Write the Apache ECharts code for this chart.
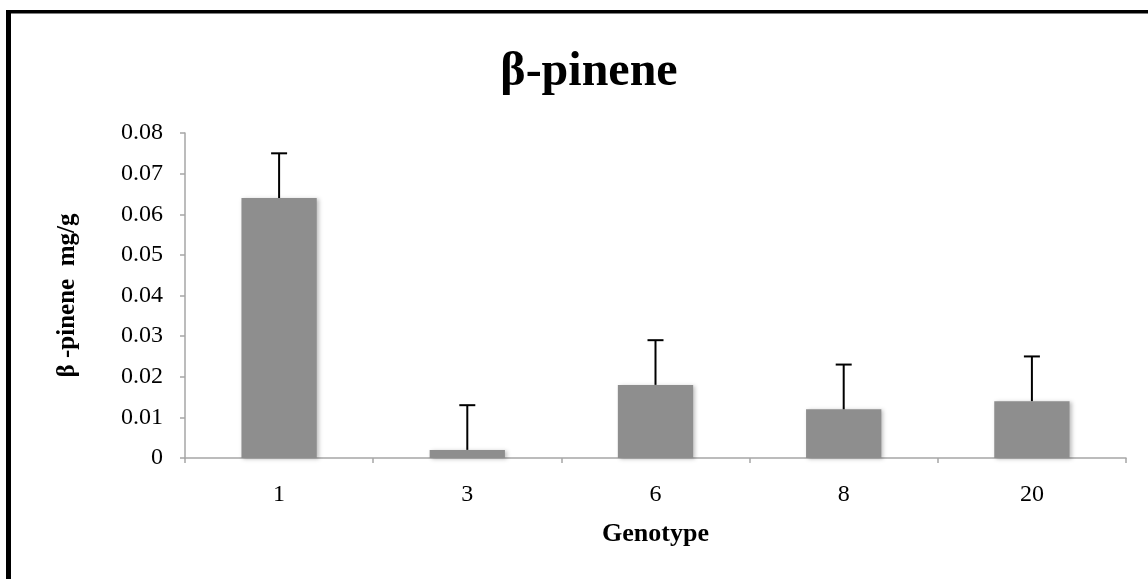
<!DOCTYPE html>
<html>
<head>
<meta charset="utf-8">
<script src="https://cdn.jsdelivr.net/npm/echarts@6/dist/echarts.min.js"></script>
<style>
html,body{margin:0;padding:0;background:#fff;}
#chart{width:1148px;height:579px;}
</style>
</head>
<body>
<div id="chart"></div>
<script>
const categories = ['1', '3', '6', '8', '20'];
const means = [0.064, 0.002, 0.018, 0.012, 0.014];
const errors = [0.011, 0.011, 0.011, 0.011, 0.011];
const yTicks = { min: 0, max: 0.08, interval: 0.01 };

const chart = echarts.init(document.getElementById('chart'), null, { renderer: 'canvas' });
const serif = '"Liberation Serif", "Times New Roman", serif';

const errData = means.map((m, i) => [i, m, m + errors[i]]);

chart.setOption({
  animation: false,
  backgroundColor: '#ffffff',
  title: {
    text: 'β-pinene',
    left: 584,
    textAlign: 'center',
    top: 44,
    textStyle: { fontFamily: serif, fontWeight: 'bold', fontSize: 48, color: '#000' }
  },
  graphic: [
    { type: 'line', shape: { x1: 6, y1: 11.75, x2: 1148, y2: 11.75 }, style: { stroke: '#000', lineWidth: 3.5 }, silent: true },
    { type: 'line', shape: { x1: 8.5, y1: 10, x2: 8.5, y2: 579 }, style: { stroke: '#000', lineWidth: 5 }, silent: true }
  ],
  grid: { left: 185, right: 22, top: 133, bottom: 121, containLabel: false },
  xAxis: {
    type: 'category',
    data: categories,
    name: 'Genotype',
    nameLocation: 'middle',
    nameGap: 63,
    nameTextStyle: { fontFamily: serif, fontWeight: 'bold', fontSize: 26, color: '#000' },
    axisLine: { lineStyle: { color: '#a6a6a6', width: 1.5 } },
    axisTick: { show: true, length: 5, lineStyle: { color: '#a6a6a6', width: 1.5 } },
    axisLabel: { fontFamily: serif, fontSize: 24, color: '#000', margin: 25 },
    splitLine: { show: false }
  },
  yAxis: {
    type: 'value',
    min: yTicks.min,
    max: yTicks.max,
    interval: yTicks.interval,
    name: 'β -pinene  mg/g',
    nameLocation: 'middle',
    nameGap: 105,
    nameRotate: 90,
    nameTextStyle: { fontFamily: serif, fontWeight: 'bold', fontSize: 25, color: '#000' },
    axisLine: { show: true, lineStyle: { color: '#a6a6a6', width: 1.5 } },
    axisTick: { show: true, length: 5, lineStyle: { color: '#a6a6a6', width: 1.5 } },
    axisLabel: { fontFamily: serif, fontSize: 24, color: '#000', margin: 22,
      formatter: v => (v === 0 ? '0' : v.toFixed(2)) },
    splitLine: { show: false }
  },
  series: [
    {
      type: 'bar',
      data: means,
      barWidth: '40%',
      itemStyle: {
        color: '#8e8e8e',
        shadowColor: 'rgba(0,0,0,0.25)',
        shadowBlur: 4,
        shadowOffsetX: 2,
        shadowOffsetY: 1
      },
      z: 2
    },
    {
      type: 'custom',
      data: errData,
      z: 3,
      renderItem: function (params, api) {
        const x = api.value(0);
        const lo = api.coord([x, api.value(1)]);
        const hi = api.coord([x, api.value(2)]);
        const half = 8;
        const style = { stroke: '#000', lineWidth: 2 };
        return {
          type: 'group',
          children: [
            { type: 'line', shape: { x1: lo[0], y1: lo[1], x2: hi[0], y2: hi[1] }, style },
            { type: 'line', shape: { x1: hi[0] - half, y1: hi[1], x2: hi[0] + half, y2: hi[1] }, style }
          ]
        };
      }
    }
  ]
});
</script>
</body>
</html>
